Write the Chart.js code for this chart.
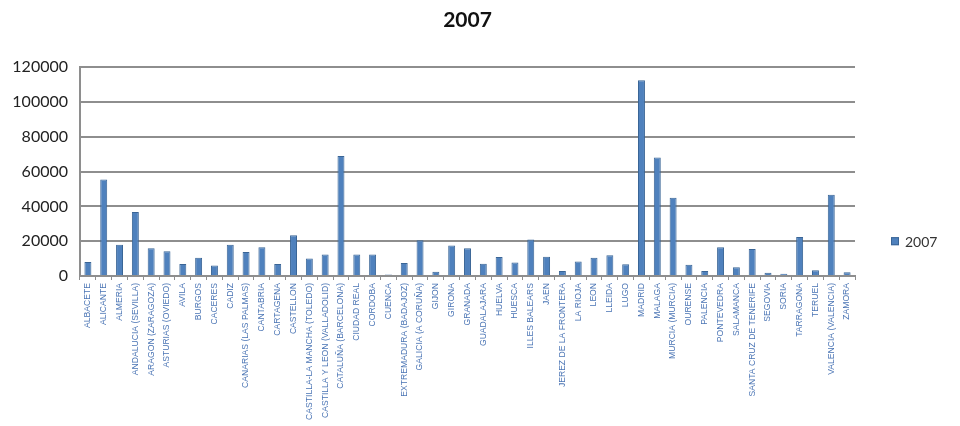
<!DOCTYPE html>
<html>
<head>
<meta charset="utf-8">
<script src="https://cdn.jsdelivr.net/npm/chart.js@4/dist/chart.umd.min.js"></script>
<style>
  html, body { margin: 0; padding: 0; background: #fff; }
  #wrap { width: 960px; height: 426px; }
</style>
</head>
<body>
<div id="wrap"><canvas id="myChart" width="960" height="426"></canvas></div>
<script>
const delegaciones = [
  'ALBACETE', 'ALICANTE', 'ALMERIA', 'ANDALUCIA (SEVILLA)', 'ARAGON (ZARAGOZA)',
  'ASTURIAS (OVIEDO)', 'AVILA', 'BURGOS', 'CACERES', 'CADIZ',
  'CANARIAS (LAS PALMAS)', 'CANTABRIA', 'CARTAGENA', 'CASTELLON', 'CASTILLA-LA MANCHA (TOLEDO)',
  'CASTILLA Y LEON (VALLADOLID)', 'CATALUÑA (BARCELONA)', 'CIUDAD REAL', 'CORDOBA', 'CUENCA',
  'EXTREMADURA (BADAJOZ)', 'GALICIA (A CORUÑA)', 'GIJON', 'GIRONA', 'GRANADA',
  'GUADALAJARA', 'HUELVA', 'HUESCA', 'ILLES BALEARS', 'JAEN',
  'JEREZ DE LA FRONTERA', 'LA RIOJA', 'LEON', 'LLEIDA', 'LUGO',
  'MADRID', 'MALAGA', 'MURCIA (MURCIA)', 'OURENSE', 'PALENCIA',
  'PONTEVEDRA', 'SALAMANCA', 'SANTA CRUZ DE TENERIFE', 'SEGOVIA', 'SORIA',
  'TARRAGONA', 'TERUEL', 'VALENCIA (VALENCIA)', 'ZAMORA'
];

const valores2007 = [
  8000, 55500, 18000, 36800, 16000,
  14200, 6900, 10500, 6100, 18000,
  13800, 16500, 6900, 23400, 10000,
  12300, 68900, 12300, 12400, 800,
  7500, 20500, 2500, 17600, 16000,
  7100, 10900, 7700, 21000, 11100,
  2900, 8400, 10500, 11900, 6700,
  112500, 68100, 45000, 6500, 2900,
  16500, 5000, 15500, 1900, 1300,
  22400, 3300, 46700, 2100
];

const ticksY = [0, 20000, 40000, 60000, 80000, 100000, 120000];

const azul = '#4f81bd';
const gris = '#8e8e8e';

// leyenda a la derecha, a la altura de la parte baja del grafico
const leyenda = {
  id: 'leyenda',
  afterDraw(chart) {
    const ctx = chart.ctx;
    const ds = chart.data.datasets[0];
    const x = chart.chartArea.right + 36;
    const y = chart.chartArea.top + 174;
    ctx.save();
    ctx.fillStyle = ds.backgroundColor;
    ctx.fillRect(x, y - 4, 8, 8);
    ctx.strokeStyle = ds.borderColor;
    ctx.lineWidth = 1;
    ctx.strokeRect(x + 0.5, y - 3.5, 7, 7);
    ctx.fillStyle = '#333';
    ctx.font = '14px Lato';
    ctx.textBaseline = 'middle';
    ctx.fillText(ds.label, x + 14, y + 1);
    ctx.restore();
  }
};

const data = {
  labels: delegaciones,
  datasets: [{
    label: '2007',
    data: valores2007,
    backgroundColor: azul,
    borderColor: '#3a6596',
    borderWidth: 1,
    barPercentage: 0.44,
    categoryPercentage: 1
  }]
};

const config = {
  type: 'bar',
  data: data,
  options: {
    responsive: false,
    animation: false,
    layout: { padding: { left: 0, right: 105, top: 0, bottom: 0 } },
    plugins: {
      legend: { display: false },
      tooltip: { enabled: false },
      title: {
        display: true,
        text: '2007',
        fullSize: false,
        color: '#111',
        font: { family: 'Lato', size: 21, weight: 'bold' },
        padding: { top: 8, bottom: 34 }
      }
    },
    scales: {
      x: {
        grid: {
          display: true,
          offset: true,
          drawOnChartArea: false,
          drawTicks: true,
          tickLength: 4,
          color: gris,
          lineWidth: 1
        },
        border: { display: true, color: gris, width: 2 },
        ticks: {
          autoSkip: false,
          maxRotation: 90,
          minRotation: 90,
          padding: 3,
          color: '#4a74b4',
          font: { family: 'Liberation Sans', size: 8.6 }
        },
        afterFit(scale) { scale.height = 150; }
      },
      y: {
        min: 0,
        max: 120000,
        afterBuildTicks(scale) { scale.ticks = ticksY.map(v => ({ value: v })); },
        grid: { color: gris, lineWidth: 2, drawTicks: false },
        border: { display: true, color: gris, width: 2 },
        ticks: {
          padding: 12,
          color: '#222',
          font: { family: 'Lato', size: 16 },
          callback: v => String(v)
        },
        afterFit(scale) { scale.width = 80; }
      }
    }
  },
  plugins: [leyenda]
};

const myChart = new Chart(document.getElementById('myChart'), config);
</script>
</body>
</html>
